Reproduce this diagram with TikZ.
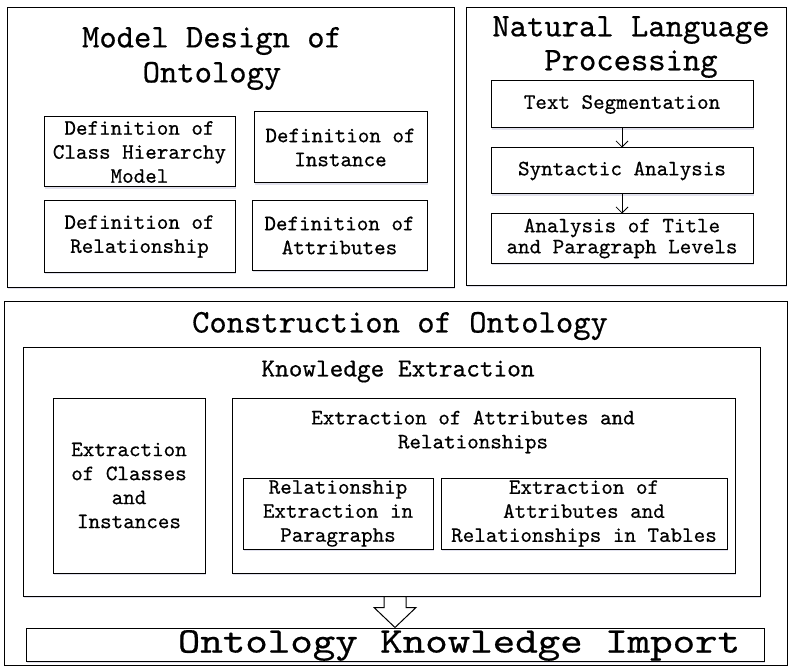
\documentclass[tikz,border=0pt]{standalone}
\usepackage{fontspec}
\newfontfamily\boxfont{lmmono10-regular.otf}[FakeBold=0.5]
\usepackage{tikz}
\usetikzlibrary{arrows.meta,positioning,calc,shadows}

\begin{document}
\begin{tikzpicture}[
        x=1pt, y=-1pt,
        box/.style={draw, line width=1pt, fill=white, inner sep=0pt, align=center,
            drop shadow={shadow xshift=0.5pt, shadow yshift=-2pt, fill=blue!40!black, opacity=0.12}},
        size/.style 2 args={minimum width=#1pt, minimum height=#2pt},
        bigtitle/.style={font=\boxfont\fontsize{33}{35}\selectfont, align=center},
        midtitle/.style={font=\boxfont\fontsize{26}{30}\selectfont},
        txt/.style={font=\boxfont\fontsize{22}{24}\selectfont, align=center},
        flow/.style={-{Straight Barb[length=6pt,width=12pt]}, line width=0.8pt},
        hollow/.style={draw, line width=1pt, fill=white, line join=miter}
    ]
        \useasboundingbox (0,0) rectangle (788,666);

        % Model design block
        \node[box, size={447}{279}] (design) at (230.5,147.5) {};
        \node[bigtitle] (designtitle) at (212,58.5) {Model Design of\\Ontology};
        \node[box, txt, size={191}{70}] (hier) at (139.5,152) {Definition of\\Class Hierarchy\\Model};
        \node[box, txt, size={173}{71}] (inst) at (340.5,147.5) {Definition of\\Instance};
        \node[box, txt, size={191}{71}] (rel) at (139.5,236.5) {Definition of\\Relationship};
        \node[box, txt, size={175}{69}] (attr) at (339.5,235.5) {Definition of\\Attributes};

        % NLP block
        \node[box, size={320}{277}] (nlp) at (626,146.5) {};
        \node[bigtitle, font=\boxfont\fontsize{33}{34}\selectfont] (nlptitle) at (631,47) {Natural Language\\Processing};
        \node[box, txt, size={262}{47}] (seg) at (622,104.5) {Text Segmentation};
        \node[box, txt, size={262}{46}] (syn) at (622,171) {Syntactic Analysis};
        \node[box, txt, font=\boxfont\fontsize{22}{21}\selectfont, size={262}{49}] (lev) at (622,238.5) {Analysis of Title\\and Paragraph Levels};
        \draw[flow] (seg) -- (syn);
        \draw[flow] (syn) -- (lev);

        % Construction block
        \node[box, size={783}{364}] (constr) at (395.5,483) {};
        \node[bigtitle] (constrtitle) at (400,326) {Construction of Ontology};
        \node[box, size={737}{249}] (ke) at (391.5,471.5) {};
        \node[midtitle] (ketitle) at (398,371.5) {Knowledge Extraction};
        \node[box, txt, size={152}{175}] (cls) at (129,485.5) {Extraction\\of Classes\\and\\Instances};
        \node[box, size={503}{175}] (ar) at (483.5,485.5) {};
        \node[txt] (artitle) at (473,432) {Extraction of Attributes and\\Relationships};
        \node[box, txt, size={190}{71}] (par) at (338,513.5) {Relationship\\Extraction in\\Paragraphs};
        \node[box, txt, size={286}{71}] (tab) at (584,513.5) {Extraction of\\Attributes and\\Relationships in Tables};

        % Import
        \node[box, size={738}{33}] (imp) at (395,644.5) {};
        \node[font=\boxfont\fontsize{36}{38}\selectfont] (imptitle) at (459,645.5) {\scalebox{1.19}[1]{Ontology Knowledge Import}};

        % Hollow arrow
        \coordinate (a) at (ke.south -| imp.north);
        \draw[hollow] ($(a)+(-11,0)$) -- ($(a)+(11,0)$) -- ($(a)+(11,11)$) -- ($(a)+(21,11)$)
            -- (imp.north) -- ($(a)+(-21,11)$) -- ($(a)+(-11,11)$) -- cycle;

    \end{tikzpicture}
\end{document}
